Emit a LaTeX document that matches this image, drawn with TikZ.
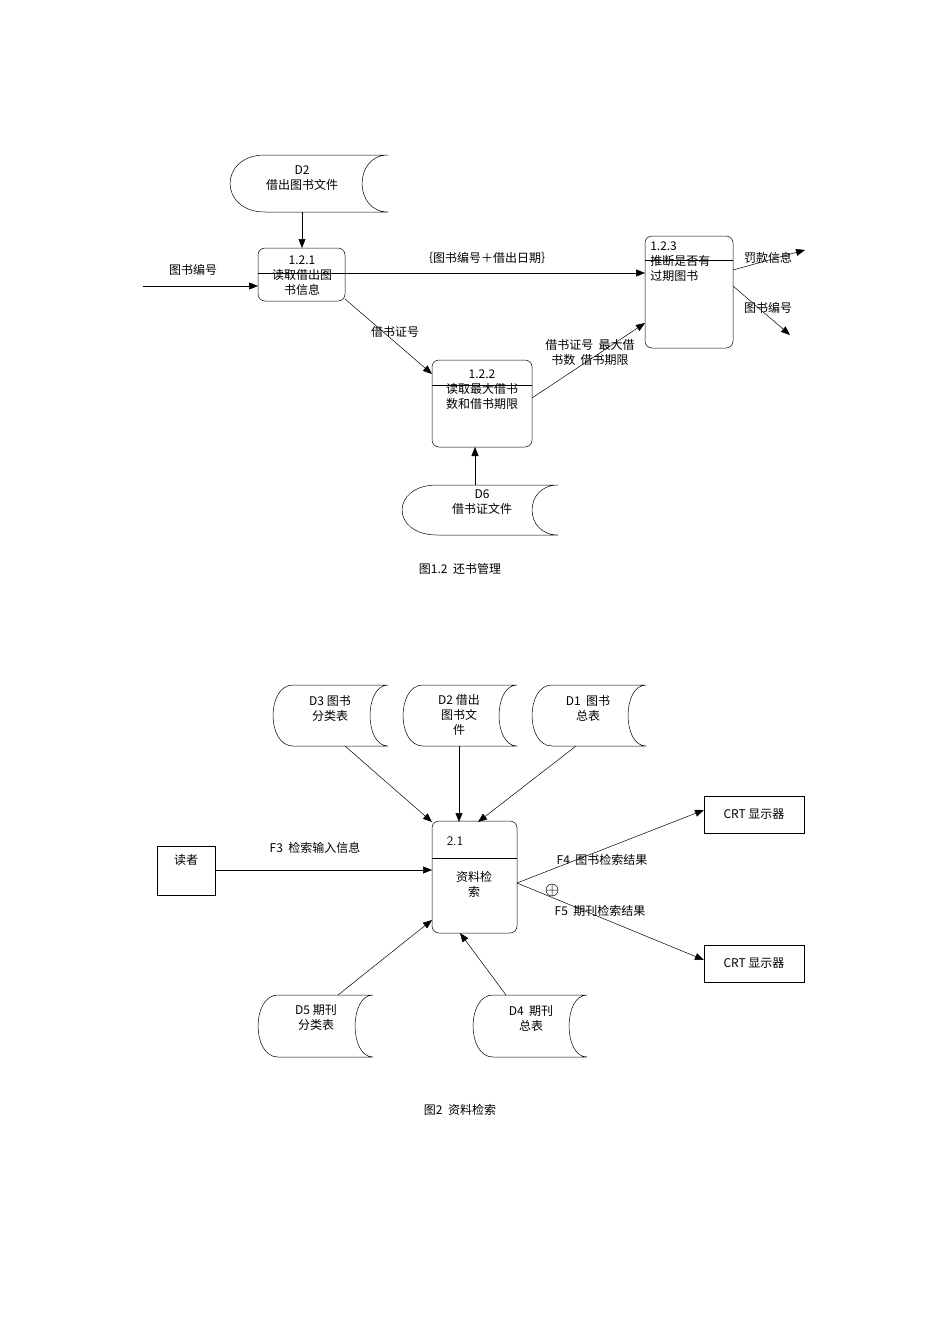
\documentclass[tikz,border=0pt]{standalone}
\usepackage{fontspec}
\setmainfont{Liberation Serif}
\newfontfamily\cjk{Noto Sans CJK SC}
\usetikzlibrary{arrows.meta}
\newcommand\dstore[6]{% x1 x2 y1 y2 dl dr
 \draw (#1+#5,#3) -- (#2,#3) .. controls (#2-1.33*#6,#3) and (#2-1.33*#6,#4) .. (#2,#4) -- (#1+#5,#4) .. controls (#1-0.33*#5,#4) and (#1-0.33*#5,#3) .. (#1+#5,#3);}
\begin{document}
\begin{tikzpicture}[x=1pt,y=-1pt,line width=0.5pt,
 every node/.style={font=\cjk\fontsize{12}{15}\selectfont,inner sep=0pt},
 arr/.style={draw,-{Triangle[length=9pt,width=7pt]}},
 lbl/.style={align=center},
 area/.style={draw=none,minimum width=#1},
 proc/.style={draw,rounded corners=7pt}]
\useasboundingbox (0,0) rectangle (950,1344);
% ---------- Figure 1.2 ----------
\dstore{230}{388}{155}{212}{35}{26}
\node[lbl] (d2) at (302,178) {D2\\借出图书文件};
\coordinate (d2s) at (302,212);
\draw[proc] (258,248) rectangle (345,301); \draw (258,273)--(345,273);
\node[lbl] (p121) at (302,276) {1.2.1\\读取借出图\\书信息};
\coordinate (p121n) at (302,248);
\draw[arr] (d2s) -- (p121n);
\coordinate (in1) at (143,286); \coordinate (p121w) at (258,286);
\draw[arr] (in1) -- (p121w);
\node (l1) at (193,270) {图书编号};
\draw[proc] (645,236) rectangle (733,348); \draw (645,260)--(733,260);
\node[anchor=north west,align=left] (p123) at (650,242) {1.2.3\\推断是否有\\过期图书};
\coordinate (p121e) at (345,273); \coordinate (p123w) at (645,273);
\draw[arr] (p121e) -- (p123w);
\node (l2) at (487,258) {｛图书编号＋借出日期｝};
\coordinate (p123a) at (733,270); \coordinate (o1) at (805,250);
\coordinate (p123b) at (733,286); \coordinate (o2) at (790,335);
\draw[arr] (p123a) -- (o1); \draw[arr] (p123b) -- (o2);
\node (l3) at (768,258) {罚款信息};
\node (l4) at (768,308) {图书编号};
\draw[proc] (432,360) rectangle (532,447); \draw (432,385)--(532,385);
\node[lbl] (p122) at (482,390) {1.2.2\\读取最大借书\\数和借书期限};
\coordinate (p121se) at (345,299); \coordinate (p122nw) at (432,374);
\draw[arr] (p121se) -- (p122nw);
\node (l5) at (395,332) {借书证号};
\coordinate (p122e) at (532,398); \coordinate (p123sw) at (645,323);
\draw[arr] (p122e) -- (p123sw);
\node[lbl] (l6) at (590,352) {借书证号\ \ 最大借\\书数\ \ 借书期限};
\dstore{402}{558}{485}{535}{35}{26}
\node[lbl] (d6) at (482,502) {D6\\借书证文件};
\coordinate (d6n) at (475,485); \coordinate (p122s) at (475,447);
\draw[arr] (d6n) -- (p122s);
\node (c1) at (460,569) {图1.2\ \ 还书管理};
% ---------- Figure 2 ----------
\dstore{273}{388}{685}{746}{20}{18}
\node[lbl] (d3) at (330,708) {D3 图书\\分类表};
\dstore{403}{517}{685}{746}{20}{18}
\node[lbl] (d2b) at (459,715) {D2 借出\\图书文\\件};
\dstore{532}{646}{685}{746}{20}{18}
\node[lbl] (d1) at (588,708) {D1\ \ 图书\\总表};
\draw[proc] (432,821) rectangle (517,933); \draw (432,858)--(517,858);
\node[font=\fontsize{13}{15}\selectfont\sffamily] (p21n) at (455,841) {2.1};
\node[lbl] (p21) at (474,884) {资料检\\索};
\coordinate (d3s) at (345,746); \coordinate (p21a) at (432,822);
\coordinate (d2bs) at (459,746); \coordinate (p21b) at (459,822);
\coordinate (d1s) at (576,746); \coordinate (p21c) at (478,822);
\draw[arr] (d3s) -- (p21a); \draw[arr] (d2bs) -- (p21b); \draw[arr] (d1s) -- (p21c);
\node[draw,minimum width=58pt,minimum height=49pt] (rd) at (186,870.5) {};
\node (rdt) at (186,860) {读者};
\coordinate (p21w) at (432,870);
\draw[arr] (rd.east |- p21w) -- (p21w);
\node (l7) at (315,848) {F3\ \ 检索输入信息};
\node[draw,minimum width=100pt,minimum height=37pt] (crt1) at (754,814.5) {CRT 显示器};
\node[draw,minimum width=100pt,minimum height=37pt] (crt2) at (754,963.5) {CRT 显示器};
\coordinate (p21e) at (517,883);
\coordinate (crt1w) at (704,810); \coordinate (crt2w) at (704,960);
\draw[arr] (p21e) -- (crt1w); \draw[arr] (p21e) -- (crt2w);
\node (l8) at (602,860) {F4\ \ 图书检索结果};
\node (l9) at (600,911) {F5\ \ 期刊检索结果};
\draw (552,890) circle (6) (546,890)--(558,890) (552,884)--(552,896);
\dstore{258}{373}{995}{1057}{20}{18}
\node[lbl] (d5) at (316,1018) {D5 期刊\\分类表};
\dstore{473}{587}{995}{1057}{20}{18}
\node[lbl] (d4) at (531,1018) {D4\ \ 期刊\\总表};
\coordinate (d5n) at (338,995); \coordinate (p21d) at (432,920);
\coordinate (d4n) at (506,995); \coordinate (p21s) at (460,933);
\draw[arr] (d5n) -- (p21d); \draw[arr] (d4n) -- (p21s);
\node (c2) at (460,1110) {图2\ \ 资料检索};
\end{tikzpicture}
\end{document}
